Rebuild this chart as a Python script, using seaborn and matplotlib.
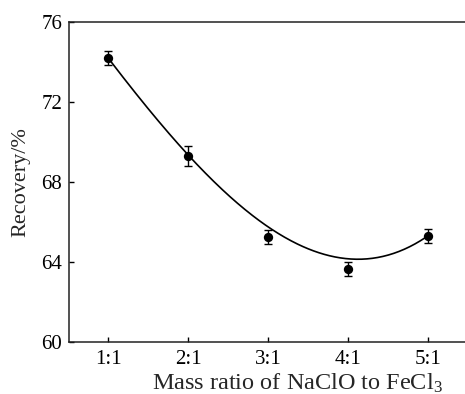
import numpy as np
import matplotlib
matplotlib.use("Agg")
import matplotlib.pyplot as plt
import seaborn as sns

# Recovery at each NaClO : FeCl3 mass ratio
ratios = ["1:1", "2:1", "3:1", "4:1", "5:1"]
recovery = [74.2, 69.3, 65.25, 63.65, 65.3]
recovery_err = [0.36, 0.48, 0.37, 0.37, 0.33]
# Smoothed trend values at each ratio
trend = [74.2, 69.4, 65.7, 64.2, 65.3]
y_ticks = [60, 64, 68, 72, 76]

sns.set_theme(style="ticks")
plt.rcParams["font.family"] = ["Liberation Serif", "DejaVu Serif"]
plt.rcParams["mathtext.fontset"] = "custom"
plt.rcParams["mathtext.rm"] = "Liberation Serif"
plt.rcParams["mathtext.it"] = "Liberation Serif:italic"

W, H = 465, 394
fig = plt.figure(figsize=(W / 100, H / 100), dpi=100)
ax = fig.add_axes([69 / W, 1 - 342 / H, (W - 69) / W, 320 / H])

pos = np.arange(1, len(ratios) + 1)

# smooth cubic trend curve
coef = np.polyfit(pos, trend, 3)
xs = np.linspace(pos[0], pos[-1], 300)
sns.lineplot(x=xs, y=np.polyval(coef, xs), color="black", linewidth=1.2, ax=ax)

ax.errorbar(pos, recovery, yerr=recovery_err, fmt="none", ecolor="black",
            elinewidth=1.0, capsize=3, capthick=1.0, zorder=3)
sns.scatterplot(x=pos, y=recovery, s=45, color="black", edgecolor="black",
                linewidth=0, zorder=4, ax=ax)

ax.set_xlim(0.5125, 5.4625)
ax.set_ylim(60, 76)
ax.set_xticks(pos)
ax.set_xticklabels(ratios)
ax.set_yticks(y_ticks)
ax.tick_params(direction="in", length=3.5, width=1.0, labelsize=15,
               colors="black")
ax.tick_params(axis="x", pad=6)
ax.tick_params(axis="y", pad=5)
for side in ("left", "bottom", "top"):
    ax.spines[side].set_linewidth(1.1)
    ax.spines[side].set_color("#222222")
ax.spines["right"].set_visible(False)

ax.set_ylabel("Recovery/%", fontsize=16)
ax.yaxis.set_label_coords(-0.098, 0.5)
fig.text(297 / W, 1 - 390 / H, "Mass ratio of NaClO to FeCl$_3$",
         fontsize=17.5, ha="center", va="baseline")

fig.savefig("out.png", dpi=100)
